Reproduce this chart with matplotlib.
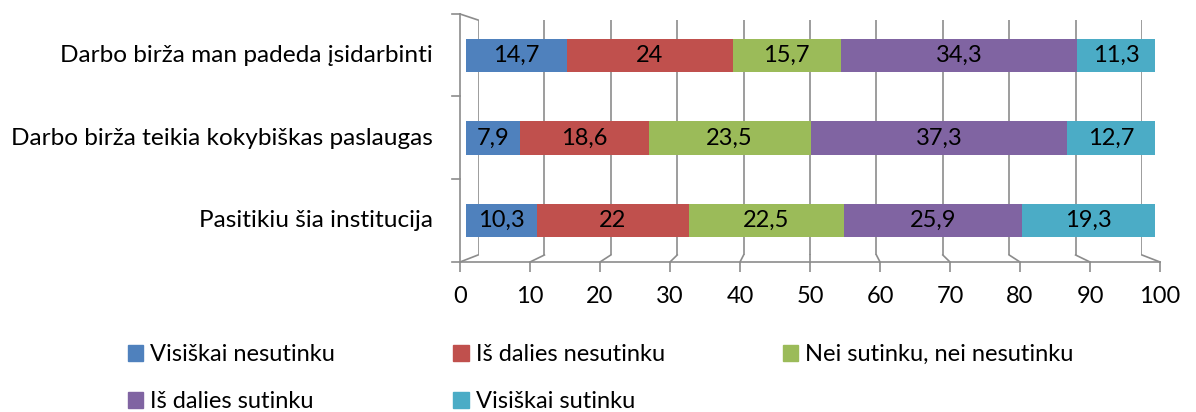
"""
Stacked horizontal bar chart (Excel 3D style) - job centre survey answers.
"""

import matplotlib.pyplot as plt
from matplotlib.lines import Line2D
from matplotlib.patches import Patch

# ── Data ──────────────────────────────────────────────────────────────────────
categories = [
    "Darbo birža man padeda įsidarbinti",
    "Darbo birža teikia kokybiškas paslaugas",
    "Pasitikiu šia institucija",
]
series_names = [
    "Visiškai nesutinku",
    "Iš dalies nesutinku",
    "Nei sutinku, nei nesutinku",
    "Iš dalies sutinku",
    "Visiškai sutinku",
]
visiskai_nesutinku = [14.7, 7.9, 10.3]
is_dalies_nesutinku = [24, 18.6, 22]
nei_nei = [15.7, 23.5, 22.5]
is_dalies_sutinku = [34.3, 37.3, 25.9]
visiskai_sutinku = [11.3, 12.7, 19.3]
x_ticks = [0, 10, 20, 30, 40, 50, 60, 70, 80, 90, 100]

COLORS = ["#4F81BD", "#C0504D", "#9BBB59", "#8064A2", "#4BACC6"]
GRID = "#8C8C8C"
W, H = 1196, 412
FONT = "Lato"
FS = 17


def px_axes(fig, x0, y0, x1, y1, **kw):
    """Axes placed by pixel box (top-left origin)."""
    return fig.add_axes([x0 / W, 1 - y1 / H, (x1 - x0) / W, (y1 - y0) / H], **kw)


def fig_line(fig, xs, ys):
    """Line in pixel coordinates (top-left origin)."""
    fig.add_artist(Line2D([x / W for x in xs], [1 - y / H for y in ys],
                          color=GRID, lw=1.2, transform=fig.transFigure))


fig = plt.figure(figsize=(W / 100, H / 100), dpi=100)
plt.rcParams["font.family"] = [FONT, "DejaVu Sans"]

# back wall with gridlines
ax_back = px_axes(fig, 478, 20, 1142, 255)
ax_back.set_xlim(0, 100)
ax_back.set_ylim(0, 1)
for v in x_ticks:
    ax_back.axvline(v, color=GRID, lw=1.2)
ax_back.axis("off")

# front floor axis with tick labels
ax_floor = px_axes(fig, 460, 20, 1160, 262)
ax_floor.set_xlim(0, 100)
ax_floor.set_xticks(x_ticks)
ax_floor.set_xticklabels([str(v) for v in x_ticks], fontsize=FS)
ax_floor.set_yticks([])
ax_floor.patch.set_visible(False)
for s in ["top", "left", "right"]:
    ax_floor.spines[s].set_visible(False)
ax_floor.spines["bottom"].set_color(GRID)
ax_floor.spines["bottom"].set_linewidth(1.2)
ax_floor.tick_params(axis="x", colors=GRID, length=7, width=1.2, pad=10,
                     labelcolor="black")

# floor diagonals from front ticks to back gridlines
for v in x_ticks:
    xf = 460 + 7.0 * v
    xb = 478 + 6.64 * v
    fig_line(fig, [xf, xb], [262, 255])

# left wall
fig_line(fig, [460, 460], [14, 262])
fig_line(fig, [460, 478], [14, 20])
for y in [14, 96, 179, 262]:
    fig_line(fig, [452, 460], [y, y])

# bars
ax = px_axes(fig, 466, 14, 1155, 262)
ax.patch.set_visible(False)
ax.set_xlim(0, 100)
ax.set_ylim(2.5, -0.5)
ax.axis("off")
series = [visiskai_nesutinku, is_dalies_nesutinku, nei_nei,
          is_dalies_sutinku, visiskai_sutinku]
left = [0.0] * len(categories)
for vals, name, col in zip(series, series_names, COLORS):
    bars = ax.barh(range(len(categories)), vals, left=left, height=0.4,
                   color=col, label=name)
    ax.bar_label(bars, labels=[f"{v:g}".replace(".", ",") for v in vals],
                 label_type="center", fontsize=FS)
    left = [a + b for a, b in zip(left, vals)]

for i, cat in enumerate(categories):
    ax.text(-0.048, 1 - (i + 0.5) / 3, cat, transform=ax.transAxes,
            ha="right", va="center", fontsize=17.6)

# legend filled row by row (matplotlib fills by column)
order = [0, 3, 1, 4, 2]
handles = [Patch(color=COLORS[i]) for i in order]
labels = [series_names[i] for i in order]
fig.legend(handles, labels, loc="upper left",
           bbox_to_anchor=(128 / W, 1 - 344 / H), ncol=3, frameon=False,
           fontsize=FS, handlelength=0.65, handleheight=0.65,
           handletextpad=0.3, columnspacing=5.0, labelspacing=1.1,
           borderpad=0, borderaxespad=0)

plt.savefig("out.png", dpi=100)
plt.close()
